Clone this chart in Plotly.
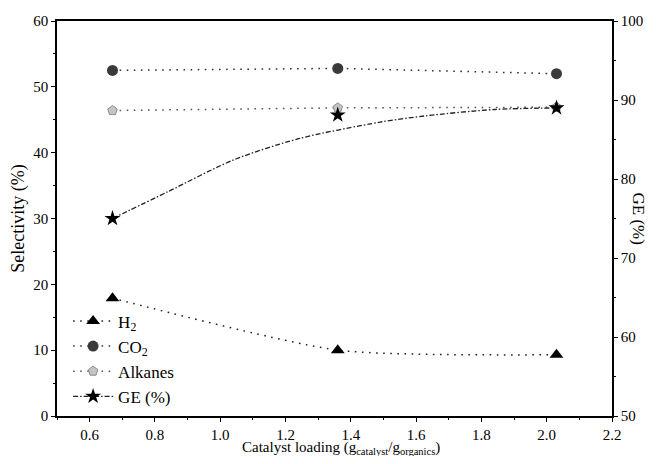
import plotly.graph_objects as go

loading = [0.67, 1.36, 2.03]
h2 = [17.9, 10.0, 9.3]
co2 = [52.5, 52.8, 52.0]
alkanes = [46.4, 46.8, 46.9]
ge = [75.0, 88.1, 89.0]

# fitted GE curve
ge_fit_x = [0.67, 0.84, 1.04, 1.24, 1.49, 1.63, 1.84, 2.03]
ge_fit = [75.0, 78.4, 82.4, 85.1, 87.2, 88.0, 88.8, 89.0]

FONT = "Liberation Serif"
DOT = "1.6px,5.5px"
DASHDOT = "5px,2px,1.5px,2px"

fig = go.Figure()
fig.add_trace(go.Scatter(
    x=loading, y=h2, name="H<sub>2</sub>", mode="lines+markers",
    line=dict(color="#222", width=1.5, dash=DOT, shape="spline", smoothing=0.6),
    marker=dict(symbol="triangle-up", size=12, color="black")))
fig.add_trace(go.Scatter(
    x=loading, y=co2, name="CO<sub>2</sub>", mode="lines+markers",
    line=dict(color="#333", width=1.5, dash=DOT),
    marker=dict(symbol="circle", size=11, color="#3a3a3a")))
fig.add_trace(go.Scatter(
    x=loading, y=alkanes, name="Alkanes", mode="lines+markers",
    line=dict(color="#555", width=1.5, dash=DOT),
    marker=dict(symbol="pentagon", size=10, color="#c4c4c4",
                line=dict(color="#8a8a8a", width=1))))
fig.add_trace(go.Scatter(
    x=ge_fit_x, y=ge_fit, mode="lines", yaxis="y2", showlegend=False,
    line=dict(color="#222", width=1.3, dash=DASHDOT, shape="spline", smoothing=0.8),
    hoverinfo="skip"))
# star markers; gaps keep the points unconnected while the legend shows line + star
gx, gy = [], []
for xv, yv in zip(loading, ge):
    gx += [xv, None]
    gy += [yv, None]
fig.add_trace(go.Scatter(
    x=gx, y=gy, name="GE (%)", mode="lines+markers", yaxis="y2", connectgaps=False,
    line=dict(color="#222", width=1.3, dash=DASHDOT),
    marker=dict(symbol="star", size=12, color="black")))

axis_common = dict(
    showline=True, linecolor="black", linewidth=1.5, ticks="outside",
    ticklen=4, tickwidth=1.3, tickcolor="black", showgrid=False, zeroline=False,
    tickfont=dict(family=FONT, size=15, color="black"))

fig.update_layout(
    width=640, height=448,
    margin=dict(l=49, r=36, t=13, b=40, autoexpand=False),
    paper_bgcolor="white", plot_bgcolor="white",
    font=dict(family=FONT, color="black"),
    xaxis=dict(range=[0.5, 2.2], dtick=0.2, tick0=0.6, tickformat=".1f",
               mirror=True,
               minor=dict(dtick=0.1, ticks="outside", ticklen=2, tickcolor="black"),
               **axis_common),
    yaxis=dict(range=[0, 60], dtick=10,
               minor=dict(dtick=5, ticks="outside", ticklen=2, tickcolor="black"),
               title=dict(text="Selectivity (%)", font=dict(family=FONT, size=18), standoff=5),
               **axis_common),
    yaxis2=dict(range=[50, 100], dtick=10, overlaying="y", side="right",
                minor=dict(dtick=5, ticks="outside", ticklen=2, tickcolor="black"),
                **axis_common),
    legend=dict(x=0.02, y=0.285, xanchor="left", yanchor="top",
                bgcolor="rgba(0,0,0,0)", font=dict(family=FONT, size=17),
                tracegroupgap=2, itemwidth=40),
    showlegend=True,
    annotations=[
        dict(text="GE (%)", textangle=90, xref="paper", yref="paper",
             x=1.0, xshift=26, y=0.5, xanchor="center", yanchor="middle",
             showarrow=False, font=dict(family=FONT, size=17, color="black")),
        dict(text="Catalyst loading (g<sub>catalyst</sub>/g<sub>organics</sub>)",
             xref="paper", yref="paper", x=0.5, xshift=6, y=0, yshift=-32,
             xanchor="center", yanchor="middle", showarrow=False,
             font=dict(family=FONT, size=15, color="black")),
    ],
)

fig.write_html("out.html")
